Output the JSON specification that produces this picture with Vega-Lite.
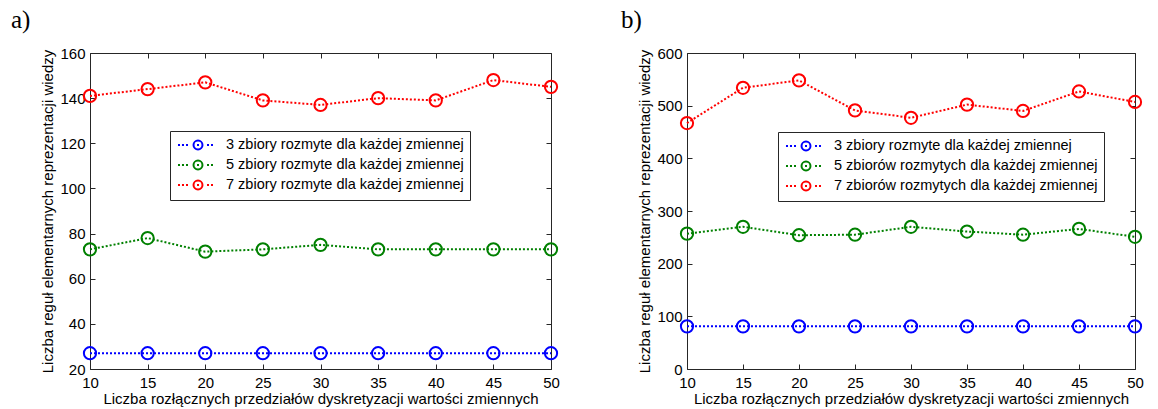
{
  "$schema": "https://vega.github.io/schema/vega-lite/v6.json",
  "padding": {"left": 10, "top": 8, "right": 5, "bottom": 2},
  "background": "white",
  "datasets": {
    "a": [
      {"n": 10, "s": "3 zbiory rozmyte dla każdej zmiennej", "v": 27},
      {"n": 15, "s": "3 zbiory rozmyte dla każdej zmiennej", "v": 27},
      {"n": 20, "s": "3 zbiory rozmyte dla każdej zmiennej", "v": 27},
      {"n": 25, "s": "3 zbiory rozmyte dla każdej zmiennej", "v": 27},
      {"n": 30, "s": "3 zbiory rozmyte dla każdej zmiennej", "v": 27},
      {"n": 35, "s": "3 zbiory rozmyte dla każdej zmiennej", "v": 27},
      {"n": 40, "s": "3 zbiory rozmyte dla każdej zmiennej", "v": 27},
      {"n": 45, "s": "3 zbiory rozmyte dla każdej zmiennej", "v": 27},
      {"n": 50, "s": "3 zbiory rozmyte dla każdej zmiennej", "v": 27},
      {"n": 10, "s": "5 zbiory rozmyte dla każdej zmiennej", "v": 73},
      {"n": 15, "s": "5 zbiory rozmyte dla każdej zmiennej", "v": 78},
      {"n": 20, "s": "5 zbiory rozmyte dla każdej zmiennej", "v": 72},
      {"n": 25, "s": "5 zbiory rozmyte dla każdej zmiennej", "v": 73},
      {"n": 30, "s": "5 zbiory rozmyte dla każdej zmiennej", "v": 75},
      {"n": 35, "s": "5 zbiory rozmyte dla każdej zmiennej", "v": 73},
      {"n": 40, "s": "5 zbiory rozmyte dla każdej zmiennej", "v": 73},
      {"n": 45, "s": "5 zbiory rozmyte dla każdej zmiennej", "v": 73},
      {"n": 50, "s": "5 zbiory rozmyte dla każdej zmiennej", "v": 73},
      {"n": 10, "s": "7 zbiory rozmyte dla każdej zmiennej", "v": 141},
      {"n": 15, "s": "7 zbiory rozmyte dla każdej zmiennej", "v": 144},
      {"n": 20, "s": "7 zbiory rozmyte dla każdej zmiennej", "v": 147},
      {"n": 25, "s": "7 zbiory rozmyte dla każdej zmiennej", "v": 139},
      {"n": 30, "s": "7 zbiory rozmyte dla każdej zmiennej", "v": 137},
      {"n": 35, "s": "7 zbiory rozmyte dla każdej zmiennej", "v": 140},
      {"n": 40, "s": "7 zbiory rozmyte dla każdej zmiennej", "v": 139},
      {"n": 45, "s": "7 zbiory rozmyte dla każdej zmiennej", "v": 148},
      {"n": 50, "s": "7 zbiory rozmyte dla każdej zmiennej", "v": 145}
    ],
    "b": [
      {"n": 10, "s": "3 zbiory rozmyte dla każdej zmiennej", "v": 81},
      {"n": 15, "s": "3 zbiory rozmyte dla każdej zmiennej", "v": 81},
      {"n": 20, "s": "3 zbiory rozmyte dla każdej zmiennej", "v": 81},
      {"n": 25, "s": "3 zbiory rozmyte dla każdej zmiennej", "v": 81},
      {"n": 30, "s": "3 zbiory rozmyte dla każdej zmiennej", "v": 81},
      {"n": 35, "s": "3 zbiory rozmyte dla każdej zmiennej", "v": 81},
      {"n": 40, "s": "3 zbiory rozmyte dla każdej zmiennej", "v": 81},
      {"n": 45, "s": "3 zbiory rozmyte dla każdej zmiennej", "v": 81},
      {"n": 50, "s": "3 zbiory rozmyte dla każdej zmiennej", "v": 81},
      {"n": 10, "s": "5 zbiorów rozmytych dla każdej zmiennej", "v": 257},
      {"n": 15, "s": "5 zbiorów rozmytych dla każdej zmiennej", "v": 270},
      {"n": 20, "s": "5 zbiorów rozmytych dla każdej zmiennej", "v": 254},
      {"n": 25, "s": "5 zbiorów rozmytych dla każdej zmiennej", "v": 255},
      {"n": 30, "s": "5 zbiorów rozmytych dla każdej zmiennej", "v": 270},
      {"n": 35, "s": "5 zbiorów rozmytych dla każdej zmiennej", "v": 261},
      {"n": 40, "s": "5 zbiorów rozmytych dla każdej zmiennej", "v": 255},
      {"n": 45, "s": "5 zbiorów rozmytych dla każdej zmiennej", "v": 266},
      {"n": 50, "s": "5 zbiorów rozmytych dla każdej zmiennej", "v": 251},
      {"n": 10, "s": "7 zbiorów rozmytych dla każdej zmiennej", "v": 467},
      {"n": 15, "s": "7 zbiorów rozmytych dla każdej zmiennej", "v": 534},
      {"n": 20, "s": "7 zbiorów rozmytych dla każdej zmiennej", "v": 548},
      {"n": 25, "s": "7 zbiorów rozmytych dla każdej zmiennej", "v": 491},
      {"n": 30, "s": "7 zbiorów rozmytych dla każdej zmiennej", "v": 477},
      {"n": 35, "s": "7 zbiorów rozmytych dla każdej zmiennej", "v": 502},
      {"n": 40, "s": "7 zbiorów rozmytych dla każdej zmiennej", "v": 490},
      {"n": 45, "s": "7 zbiorów rozmytych dla każdej zmiennej", "v": 527},
      {"n": 50, "s": "7 zbiorów rozmytych dla każdej zmiennej", "v": 507}
    ]
  },
  "hconcat": [
    {
      "title": {"text": "a)", "anchor": "start", "font": "Liberation Serif", "fontSize": 25, "fontWeight": "normal", "color": "black", "dx": -30, "offset": 13},
      "width": 461,
      "height": 316,
      "data": {"name": "a"},
      "layer": [
        {
          "mark": {"type": "line", "strokeDash": [2, 2], "strokeWidth": 2},
          "encoding": {
            "x": {"field": "n", "type": "quantitative", "scale": {"domain": [10, 50]},
              "axis": {"orient": "bottom", "values": [10, 15, 20, 25, 30, 35, 40, 45, 50], "title": "Liczba rozłącznych przedziałów dyskretyzacji wartości zmiennych"}},
            "y": {"field": "v", "type": "quantitative", "scale": {"domain": [20, 160]},
              "axis": {"orient": "left", "values": [20, 40, 60, 80, 100, 120, 140, 160], "title": "Liczba reguł elementarnych reprezentacji wiedzy"}},
            "color": {"field": "s", "type": "nominal",
              "scale": {"domain": ["3 zbiory rozmyte dla każdej zmiennej", "5 zbiory rozmyte dla każdej zmiennej", "7 zbiory rozmyte dla każdej zmiennej"], "range": ["#0000ff", "#008000", "#ff0000"]},
              "legend": {"legendX": 80, "legendY": 78}}
          }
        },
        {
          "mark": {"type": "point", "shape": "circle", "filled": false, "size": 150, "strokeWidth": 2, "opacity": 1},
          "encoding": {
            "x": {"field": "n", "type": "quantitative", "scale": {"domain": [10, 50]},
              "axis": {"orient": "top", "values": [10, 15, 20, 25, 30, 35, 40, 45, 50], "labels": false, "title": null}},
            "y": {"field": "v", "type": "quantitative", "scale": {"domain": [20, 160]},
              "axis": {"orient": "right", "values": [20, 40, 60, 80, 100, 120, 140, 160], "labels": false, "title": null}},
            "color": {"field": "s", "type": "nominal",
              "scale": {"domain": ["3 zbiory rozmyte dla każdej zmiennej", "5 zbiory rozmyte dla każdej zmiennej", "7 zbiory rozmyte dla każdej zmiennej"], "range": ["#0000ff", "#008000", "#ff0000"]},
              "legend": {"legendX": 80, "legendY": 78}}
          }
        }
      ],
      "resolve": {"axis": {"x": "independent", "y": "independent"}}
    },
    {
      "title": {"text": "b)", "anchor": "start", "font": "Liberation Serif", "fontSize": 25, "fontWeight": "normal", "color": "black", "dx": -17, "offset": 13},
      "width": 448,
      "height": 316,
      "data": {"name": "b"},
      "layer": [
        {
          "mark": {"type": "line", "strokeDash": [2, 2], "strokeWidth": 2},
          "encoding": {
            "x": {"field": "n", "type": "quantitative", "scale": {"domain": [10, 50]},
              "axis": {"orient": "bottom", "values": [10, 15, 20, 25, 30, 35, 40, 45, 50], "title": "Liczba rozłącznych przedziałów dyskretyzacji wartości zmiennych"}},
            "y": {"field": "v", "type": "quantitative", "scale": {"domain": [0, 600]},
              "axis": {"orient": "left", "values": [0, 100, 200, 300, 400, 500, 600], "title": "Liczba reguł elementarnych reprezentacji wiedzy"}},
            "color": {"field": "s", "type": "nominal",
              "scale": {"domain": ["3 zbiory rozmyte dla każdej zmiennej", "5 zbiorów rozmytych dla każdej zmiennej", "7 zbiorów rozmytych dla każdej zmiennej"], "range": ["#0000ff", "#008000", "#ff0000"]},
              "legend": {"legendX": 91, "legendY": 79}}
          }
        },
        {
          "mark": {"type": "point", "shape": "circle", "filled": false, "size": 150, "strokeWidth": 2, "opacity": 1},
          "encoding": {
            "x": {"field": "n", "type": "quantitative", "scale": {"domain": [10, 50]},
              "axis": {"orient": "top", "values": [10, 15, 20, 25, 30, 35, 40, 45, 50], "labels": false, "title": null}},
            "y": {"field": "v", "type": "quantitative", "scale": {"domain": [0, 600]},
              "axis": {"orient": "right", "values": [0, 100, 200, 300, 400, 500, 600], "labels": false, "title": null}},
            "color": {"field": "s", "type": "nominal",
              "scale": {"domain": ["3 zbiory rozmyte dla każdej zmiennej", "5 zbiorów rozmytych dla każdej zmiennej", "7 zbiorów rozmytych dla każdej zmiennej"], "range": ["#0000ff", "#008000", "#ff0000"]},
              "legend": {"legendX": 91, "legendY": 79}}
          }
        }
      ],
      "resolve": {"axis": {"x": "independent", "y": "independent"}}
    }
  ],
  "spacing": 58,
  "resolve": {"scale": {"color": "independent"}, "legend": {"color": "independent"}},
  "config": {
    "view": {"stroke": null},
    "axis": {
      "grid": false,
      "domainColor": "#262626",
      "domainWidth": 1,
      "tickColor": "#262626",
      "tickSize": -5,
      "labelPadding": 8,
      "labelFlush": false,
      "labelOverlap": false,
      "labelFont": "Liberation Sans",
      "labelFontSize": 15,
      "labelColor": "black",
      "titleFont": "Liberation Sans",
      "titleFontSize": 15,
      "titleFontWeight": "normal",
      "titleColor": "black",
      "titlePadding": 4
    },
    "axisLeft": {"labelPadding": 10},
    "axisBottom": {"labelPadding": 11, "titlePadding": 1},
    "legend": {
      "orient": "none",
      "title": null,
      "strokeColor": "#262626",
      "fillColor": "white",
      "padding": 6,
      "rowPadding": 2,
      "labelFont": "Liberation Sans",
      "labelFontSize": 14.5,
      "labelColor": "black",
      "labelLimit": 0,
      "labelOffset": 20,
      "symbolOffset": 14,
      "symbolType": "M-2.86,0L-2.57,0M-2.29,0L-2,0M-1.71,0L-1.43,0M0.64,0A0.64,0.64,0,1,1,-0.64,0A0.64,0.64,0,1,1,0.64,0M-0.14,0L0.14,0M1.29,0L1.57,0M1.86,0L2.14,0",
      "symbolSize": 196,
      "symbolStrokeWidth": 2,
      "symbolFillColor": "transparent"
    }
  }
}
